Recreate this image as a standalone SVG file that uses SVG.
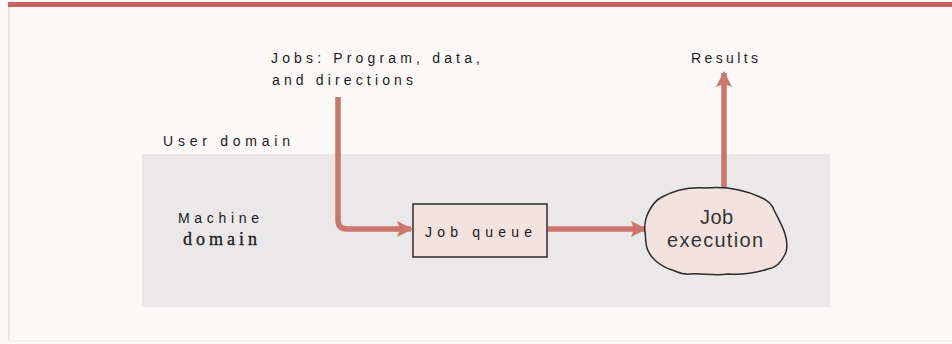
<svg xmlns="http://www.w3.org/2000/svg" width="952" height="344" viewBox="0 0 952 344">
<defs>
<style>
.lbl{font-family:"Liberation Sans",Arial,sans-serif;font-size:14px;fill:#1a1a1a}
.ser{font-family:"Liberation Serif","Times New Roman",serif;font-size:18px;fill:#1a1a1a;stroke:#1a1a1a;stroke-width:0.3}
.big{font-family:"Liberation Sans",Arial,sans-serif;font-size:20px;fill:#333}
.conn{fill:none;stroke:#cc766e;stroke-width:5.5;stroke-linejoin:round}
.node{fill:#f3e3de;stroke:#2a2a2a;stroke-width:1.5}
</style>
<marker id="ah" viewBox="0 0 16 16" refX="14" refY="8" markerWidth="16" markerHeight="16" markerUnits="userSpaceOnUse" orient="auto">
<path d="M0,0 L16,8 L0,16 L3,8 Z" fill="#cc766e"/>
</marker>
</defs>
<rect width="952" height="344" fill="#fdf9f9"/>
<rect x="8" y="2" width="944" height="5" fill="#c8625e"/>
<line x1="9" y1="7" x2="9" y2="340" stroke="#e2dede" stroke-width="1.5"/>
<line x1="9" y1="341" x2="952" y2="341" stroke="#eeeaea" stroke-width="1"/>
<rect id="machine-domain-area" x="142" y="154" width="688" height="153" fill="#eae8e8"/>

<g id="labels">
<text class="lbl" x="271" y="63" textLength="209" lengthAdjust="spacing">Jobs: Program, data,</text>
<text class="lbl" x="272" y="85" textLength="141" lengthAdjust="spacing">and directions</text>
<text class="lbl" x="691" y="63" textLength="67" lengthAdjust="spacing">Results</text>
<text class="lbl" x="163" y="146" textLength="127" lengthAdjust="spacing">User domain</text>
<text class="lbl" x="178" y="223" textLength="81" lengthAdjust="spacing">Machine</text>
<text class="ser" x="183" y="245" textLength="74" lengthAdjust="spacing">domain</text>
</g>

<g id="connectors">
<path class="conn" d="M338,97 V220 Q338,229 347,229 H411" marker-end="url(#ah)"/>
<path class="conn" d="M548,229 H645" marker-end="url(#ah)"/>
<path class="conn" d="M724,188 V73" marker-end="url(#ah)"/>
</g>

<g id="job-queue">
<rect class="node" x="413" y="204" width="134" height="53"/>
<text class="lbl" x="425" y="237" textLength="107" lengthAdjust="spacing">Job queue</text>
</g>

<g id="job-execution">
<path class="node" d="M645,232 C643,218 652,202 662,197 C675,190 690,187 705,188 C725,186 745,190 760,197 C770,201 773,207 774,210 C780,222 790,238 786,252 C782,262 775,268 768,269 C755,273 742,275 728,274 C715,276 700,273 690,274 C683,275 678,272 672,270 C660,266 650,258 647,248 C645,242 646,237 645,232 Z"/>
<text class="big" x="700" y="224" textLength="33" lengthAdjust="spacing">Job</text>
<text class="big" x="667" y="247" textLength="96" lengthAdjust="spacing">execution</text>
</g>
</svg>
